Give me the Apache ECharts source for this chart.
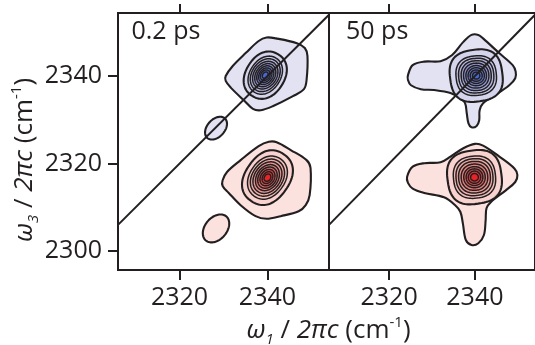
<!DOCTYPE html>
<html>
<head>
<meta charset="utf-8">
<script src="https://cdn.jsdelivr.net/npm/echarts@6/dist/echarts.min.js"></script>
<style>
  html, body { margin: 0; padding: 0; background: #ffffff; }
  #chart { width: 535px; height: 345px; }
</style>
</head>
<body>
<div id="chart"></div>
<script>
// ---- axes ------------------------------------------------------------
const X_RANGE = [2306, 2354];        // ω1 / 2πc (cm⁻¹), both panels
const Y_RANGE = [2295.7, 2354.4];    // ω3 / 2πc (cm⁻¹)
const xTicks = [2320, 2340];
const yTicks = [2300, 2320, 2340];
const panelTitles = ['0.2 ps', '50 ps'];

// ---- 0.2 ps spectrum ---------------------------------------------------
// lowest contour of each peak, traced as [ω1, ω3] vertices
const t02_peak01_outer = [
  [2330.5, 2340.0], [2332.1, 2342.3], [2335.1, 2345.3], [2338.0, 2348.0],
  [2339.8, 2348.8], [2341.9, 2348.6], [2346.7, 2347.5], [2348.5, 2346.4],
  [2349.1, 2344.6], [2348.9, 2339.1], [2348.3, 2337.0], [2345.8, 2335.4],
  [2341.2, 2333.1], [2338.5, 2332.2], [2336.7, 2332.5], [2334.8, 2334.3],
  [2331.7, 2337.3], [2330.5, 2338.9]
];
const t02_peak12_outer = [
  [2329.8, 2316.2], [2330.8, 2318.1], [2333.9, 2320.8], [2338.0, 2324.0],
  [2340.3, 2325.0], [2342.1, 2324.9], [2345.3, 2323.1], [2348.9, 2320.8],
  [2349.8, 2319.0], [2349.6, 2312.8], [2348.7, 2310.5], [2347.1, 2309.1],
  [2343.0, 2308.0], [2339.8, 2307.4], [2337.3, 2308.0], [2333.9, 2310.5],
  [2331.2, 2313.3], [2329.8, 2314.9]
];
// small isolated lowest-level contours: [ω1, ω3, semi-major, semi-minor, tilt°]
const t02_peak01_islands = [[2328.3, 2328.1, 3.0, 2.0, 48]];
const t02_peak12_islands = [[2328.3, 2305.2, 3.6, 2.5, 50]];
// peak maxima and the nested contours around them:
// [semi-major, semi-minor, tilt°, squareness]
const t02_peak01_center = [2339.5, 2340.2];
const t02_peak01_inner = [
  [5.6, 4.4, 58, 2.2], [4.6, 3.5, 57, 2.1], [4.0, 3.05, 56, 2.05],
  [3.4, 2.6, 55, 2], [2.85, 2.15, 55, 2], [2.3, 1.75, 55, 2],
  [1.8, 1.35, 55, 2], [1.3, 1.0, 55, 2], [0.8, 0.6, 55, 2]
];
const t02_peak12_center = [2340.0, 2316.8];
const t02_peak12_inner = [
  [6.5, 5.0, 55, 2.3], [5.2, 4.0, 55, 2.15], [4.5, 3.45, 55, 2.1],
  [3.85, 2.95, 55, 2.05], [3.2, 2.45, 55, 2], [2.6, 2.0, 55, 2],
  [2.0, 1.55, 55, 2], [1.45, 1.1, 55, 2], [0.9, 0.7, 55, 2]
];

// ---- 50 ps spectrum ----------------------------------------------------
const t50_peak01_outer = [
  [2324.4, 2340.2], [2325.5, 2342.5], [2328.2, 2343.3], [2332.0, 2343.4],
  [2334.7, 2344.8], [2337.3, 2347.8], [2339.2, 2349.4], [2340.8, 2349.4],
  [2341.9, 2348.6], [2345.7, 2345.2], [2348.8, 2342.5], [2349.5, 2341.0],
  [2349.4, 2339.5], [2348.0, 2337.9], [2344.2, 2335.3], [2341.9, 2333.8],
  [2341.1, 2332.2], [2341.0, 2329.9], [2340.4, 2328.6], [2339.2, 2328.3],
  [2338.5, 2329.2], [2338.1, 2331.5], [2337.7, 2333.8], [2336.6, 2334.9],
  [2334.3, 2336.1], [2330.5, 2336.8], [2327.4, 2337.0], [2325.1, 2337.9],
  [2324.4, 2339.1]
];
const t50_peak12_outer = [
  [2324.2, 2317.0], [2325.5, 2319.3], [2328.2, 2320.1], [2332.0, 2320.3],
  [2334.3, 2321.6], [2337.3, 2323.5], [2340.0, 2324.5], [2341.9, 2324.1],
  [2345.7, 2321.6], [2349.2, 2318.9], [2349.9, 2317.4], [2349.4, 2315.8],
  [2347.2, 2313.9], [2343.8, 2311.3], [2342.7, 2309.8], [2342.5, 2307.1],
  [2342.1, 2303.7], [2340.8, 2301.8], [2339.2, 2301.4], [2337.9, 2302.5],
  [2337.2, 2306.3], [2336.6, 2309.0], [2335.4, 2310.5], [2332.8, 2312.3],
  [2328.2, 2313.3], [2325.5, 2314.3], [2324.4, 2315.6]
];
const t50_peak01_center = [2340.3, 2340.1];
const t50_peak01_inner = [
  [6.1, 5.9, 8, 2.7], [4.7, 4.5, 6, 2.5], [4.1, 3.95, 5, 2.4],
  [3.5, 3.4, 4, 2.3], [2.95, 2.85, 3, 2.2], [2.4, 2.3, 2, 2.1],
  [1.9, 1.8, 0, 2.05], [1.4, 1.3, 0, 2], [0.85, 0.8, 0, 2]
];
const t50_peak12_center = [2339.9, 2316.9];
const t50_peak12_inner = [
  [6.3, 6.1, 8, 2.7], [4.9, 4.8, 6, 2.5], [4.3, 4.2, 5, 2.4],
  [3.7, 3.6, 4, 2.3], [3.1, 3.0, 3, 2.2], [2.5, 2.4, 2, 2.1],
  [1.95, 1.9, 0, 2.05], [1.45, 1.4, 0, 2], [0.9, 0.85, 0, 2]
];

// ---- styling -------------------------------------------------------------
const INK = '#231f20';
const FONT = "'Open Sans', 'Noto Sans', sans-serif";
const LEVEL_FILL = {
  peak01: ['#e2e2f3', '#d4d5ed', '#c5c8e7', '#b5b9e1', '#a4aadb',
           '#939cd6', '#818ed2', '#6e80cf', '#5b73ce', '#4468d6'],
  peak12: ['#fce2df', '#f8d2ce', '#f4c0bb', '#efaca7', '#ea9792',
           '#e6807c', '#e26966', '#e05150', '#e03a3b', '#e82427']
};

// one list of contour rings per panel, drawn outermost first
function peakRings(family, outer, islands, center, inner) {
  const rings = [{ family, level: 0, pts: outer }];
  islands.forEach(e => rings.push({ family, level: 0, ell: [e[0], e[1], e[2], e[3], e[4], 2] }));
  inner.forEach((r, k) => rings.push({
    family, level: k + 1, ell: [center[0], center[1], r[0], r[1], r[2], r[3]]
  }));
  return rings;
}
const panels = [
  [].concat(
    peakRings('peak01', t02_peak01_outer, t02_peak01_islands, t02_peak01_center, t02_peak01_inner),
    peakRings('peak12', t02_peak12_outer, t02_peak12_islands, t02_peak12_center, t02_peak12_inner)
  ),
  [].concat(
    peakRings('peak01', t50_peak01_outer, [], t50_peak01_center, t50_peak01_inner),
    peakRings('peak12', t50_peak12_outer, [], t50_peak12_center, t50_peak12_inner)
  )
];

// closed (super)ellipse outline in data units
function ringOutline(e) {
  const [cx, cy, a, b, tilt, n] = e;
  const th = tilt * Math.PI / 180, c = Math.cos(th), s = Math.sin(th);
  const pts = [];
  const N = 96;
  for (let k = 0; k < N; k++) {
    const t = k / N * 2 * Math.PI;
    const ct = Math.cos(t), st = Math.sin(t);
    const u = a * Math.sign(ct) * Math.pow(Math.abs(ct), 2 / n);
    const v = b * Math.sign(st) * Math.pow(Math.abs(st), 2 / n);
    pts.push([cx + u * c - v * s, cy + u * s + v * c]);
  }
  return pts;
}

function contourSeries(p) {
  const rings = panels[p];
  return {
    type: 'custom',
    xAxisIndex: p * 2,
    yAxisIndex: p,
    silent: true,
    animation: false,
    z: 2,
    data: rings.map(r => (r.pts ? r.pts[0] : [r.ell[0], r.ell[1]])),
    renderItem: function (params, api) {
      const ring = rings[params.dataIndex];
      const pts = (ring.pts || ringOutline(ring.ell)).map(d => api.coord(d));
      return {
        type: 'polygon',
        shape: { points: pts, smooth: ring.pts ? 0.35 : 0 },
        style: {
          fill: LEVEL_FILL[ring.family][ring.level],
          stroke: INK,
          lineWidth: ring.level <= 1 ? 2.1 : 1.5
        }
      };
    }
  };
}

function diagonalSeries(p) {
  return {
    type: 'line',
    xAxisIndex: p * 2,
    yAxisIndex: p,
    silent: true,
    animation: false,
    clip: true,
    z: 5,
    symbol: 'none',
    data: [[X_RANGE[0], X_RANGE[0]], [X_RANGE[1], X_RANGE[1]]],
    lineStyle: { color: INK, width: 2 }
  };
}

const plainNumber = v => String(v);
const tickStyle = { color: INK, width: 2 };
function xAxes(g) {
  const common = {
    gridIndex: g, type: 'value', min: X_RANGE[0], max: X_RANGE[1],
    axisLine: { show: false }, splitLine: { show: false }
  };
  return [
    Object.assign({}, common, {
      position: 'bottom',
      axisTick: { show: true, customValues: xTicks, length: 10, lineStyle: tickStyle },
      axisLabel: { show: true, customValues: xTicks, formatter: plainNumber, margin: 15, fontSize: 25, fontFamily: FONT, color: INK }
    }),
    Object.assign({}, common, {
      position: 'top',
      axisTick: { show: true, customValues: xTicks, length: 9, lineStyle: tickStyle },
      axisLabel: { show: false }
    })
  ];
}

const rich = {
  w: { fontFamily: FONT, fontSize: 26, fontStyle: 'italic', lineHeight: 32, fill: INK, color: INK },
  n: { fontFamily: FONT, fontSize: 26, lineHeight: 32, fill: INK, color: INK },
  i: { fontFamily: FONT, fontSize: 26, fontStyle: 'italic', lineHeight: 32, fill: INK, color: INK },
  s: { fontFamily: FONT, fontSize: 15, fontStyle: 'italic', lineHeight: 15, verticalAlign: 'bottom', fill: INK, color: INK },
  p: { fontFamily: FONT, fontSize: 15, lineHeight: 19, verticalAlign: 'top', fill: INK, color: INK }
};

const chart = echarts.init(document.getElementById('chart'), null, { renderer: 'canvas' });
chart.setOption({
  animation: false,
  backgroundColor: '#ffffff',
  grid: [
    { left: 118, top: 13, width: 211, height: 257, show: true, borderColor: INK, borderWidth: 2, backgroundColor: 'transparent' },
    { left: 329, top: 13, width: 209.6, height: 257, show: true, borderColor: INK, borderWidth: 2, backgroundColor: 'transparent' }
  ],
  xAxis: xAxes(0).concat(xAxes(1)),
  yAxis: [
    {
      gridIndex: 0, type: 'value', min: Y_RANGE[0], max: Y_RANGE[1], position: 'left',
      axisLine: { show: false }, splitLine: { show: false },
      axisTick: { show: true, customValues: yTicks, length: 10, lineStyle: tickStyle },
      axisLabel: { show: true, customValues: yTicks, formatter: plainNumber, margin: 16, fontSize: 25, fontFamily: FONT, color: INK, padding: [4, 0, 0, 0] }
    },
    {
      gridIndex: 1, type: 'value', min: Y_RANGE[0], max: Y_RANGE[1], position: 'left',
      axisLine: { show: false }, splitLine: { show: false },
      axisTick: { show: false }, axisLabel: { show: false }
    }
  ],
  graphic: [
    { type: 'text', x: 131.5, y: 32, z: 10, style: { text: panelTitles[0], font: '25px ' + FONT, fill: INK, align: 'left', verticalAlign: 'middle' } },
    { type: 'text', x: 346, y: 32, z: 10, style: { text: panelTitles[1], font: '25px ' + FONT, fill: INK, align: 'left', verticalAlign: 'middle' } },
    {
      type: 'text', x: 328.5, y: 331, z: 10,
      style: { text: '{w|ω}{s|1}{n| / }{i|2πc}{n| (cm}{p|-1}{n|)}', rich: rich, fill: INK, align: 'center', verticalAlign: 'middle' }
    },
    {
      type: 'text', x: 25, y: 160, rotation: Math.PI / 2, z: 10,
      style: { text: '{w|ω}{s|3}{n| / }{i|2πc}{n| (cm}{p|-1}{n|)}', rich: rich, fill: INK, align: 'center', verticalAlign: 'middle' }
    }
  ],
  series: [contourSeries(0), diagonalSeries(0), contourSeries(1), diagonalSeries(1)]
});
</script>
</body>
</html>
